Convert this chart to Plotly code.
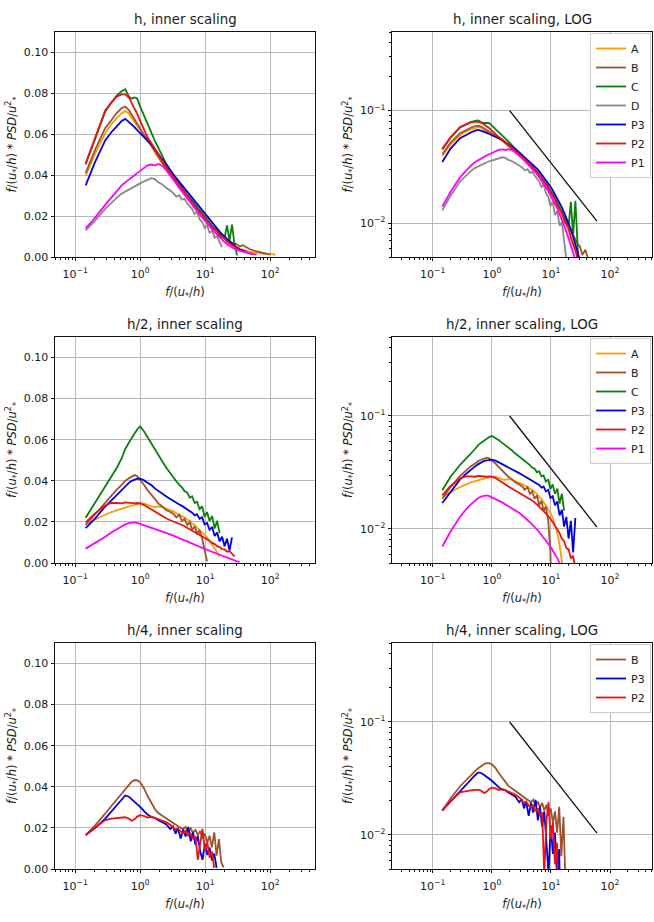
import math
import plotly.graph_objects as go

# ---------------- data ----------------
NAMES = ["A", "B", "C", "D", "P3", "P2", "P1"]

# frequency grid, height h
F_H = [0.145, 0.2, 0.29, 0.36, 0.44, 0.52, 0.59, 0.67, 0.74, 0.82,
       0.9, 1.0, 1.15, 1.3, 1.5, 1.7, 1.9, 2.2, 2.5, 2.9,
       3.3, 3.6, 4.0, 4.4, 4.8, 5.3, 5.8, 6.3, 6.9, 7.5,
       8.2, 9.0, 9.8, 10.7, 11.7, 12.8, 14, 15.3, 16.7, 18.2,
       19.9, 21.7, 23.7, 25.9, 28.3, 31, 34, 38, 43, 48,
       55, 62, 70, 80, 90, 100, 112, 120]

H_A = [0.0395, 0.050, 0.0605, 0.065, 0.068, 0.0703, 0.0714, 0.0702, 0.068, 0.066,
       0.064, 0.062, 0.059, 0.0565, 0.054, 0.051, 0.0485, 0.0455, 0.043, 0.040,
       0.0375, 0.036, 0.034, 0.0325, 0.031, 0.0292, 0.0276, 0.026, 0.0245, 0.023,
       0.0215, 0.020, 0.0186, 0.0172, 0.0158, 0.0145, 0.0132, 0.012, 0.0108, 0.0097,
       0.0087, 0.0077, 0.0068, 0.006, 0.0052, 0.0046, 0.004, 0.0035, 0.003, 0.0026,
       0.0023, 0.002, 0.0018, 0.0016, 0.0015, 0.0016, 0.0013, 0.0011]
H_B = [0.041, 0.052, 0.063, 0.067, 0.0705, 0.0728, 0.0735, 0.0718, 0.0695, 0.067,
       0.0648, 0.0625, 0.0595, 0.057, 0.0545, 0.0515, 0.049, 0.046, 0.0435, 0.0405,
       0.038, 0.0365, 0.0345, 0.033, 0.0315, 0.0298, 0.0282, 0.0268, 0.0252, 0.0238,
       0.0222, 0.0208, 0.0194, 0.018, 0.0166, 0.0152, 0.014, 0.0128, 0.0116, 0.0105,
       0.0095, 0.0086, 0.0078, 0.0071, 0.0065, 0.0062, 0.0052, 0.0058, 0.0046, 0.0039,
       0.0032, 0.0027, 0.0022, 0.0018, 0.0015, 0.0013, None, None]
H_C = [0.0452, 0.0575, 0.071, 0.0755, 0.079, 0.081, 0.082, 0.0785, 0.0774, 0.078,
       0.0775, 0.0735, 0.069, 0.0645, 0.060, 0.0565, 0.0535, 0.049, 0.0458, 0.0425,
       0.0398, 0.0375, 0.0358, 0.0338, 0.0322, 0.0305, 0.0288, 0.027, 0.0255, 0.024,
       0.0225, 0.021, 0.0196, 0.018, 0.0165, 0.0152, 0.0138, 0.0125, 0.0112, 0.0102,
       0.0094, 0.0155, 0.0078, 0.0158, 0.0062, 0.0008, None, None, None, None,
       None, None, None, None, None, None, None, None]
H_D = [0.013, 0.0175, 0.0235, 0.0265, 0.029, 0.031, 0.032, 0.033, 0.034, 0.0348,
       0.0355, 0.036, 0.037, 0.0378, 0.0385, 0.038, 0.0365, 0.0355, 0.0338, 0.0325,
       0.031, 0.0295, 0.0302, 0.028, 0.0285, 0.0262, 0.0248, 0.0235, 0.021, 0.0222,
       0.0185, 0.0172, 0.0142, 0.0155, 0.0118, 0.0128, 0.0095, 0.0102, 0.0072, 0.0048,
       None, None, None, None, None, None, None, None, None, None,
       None, None, None, None, None, None, None, None]
H_P3 = [0.035, 0.046, 0.057, 0.061, 0.064, 0.0665, 0.0675, 0.066, 0.065, 0.0635,
        0.062, 0.0605, 0.059, 0.057, 0.0548, 0.0525, 0.0505, 0.048, 0.0455, 0.0425,
        0.040, 0.0385, 0.0365, 0.035, 0.0338, 0.032, 0.0305, 0.029, 0.0272, 0.0258,
        0.0242, 0.0228, 0.0212, 0.0196, 0.018, 0.0168, 0.0152, 0.0138, 0.0124, 0.0112,
        0.0098, 0.0088, 0.0076, 0.0066, 0.0055, 0.0046, 0.0038, 0.0031, 0.0025, None,
        None, None, None, None, None, None, None, None]
H_P2 = [0.0457, 0.058, 0.0717, 0.0755, 0.0785, 0.0795, 0.0795, 0.078, 0.0755, 0.0725,
        0.070, 0.0665, 0.062, 0.0585, 0.0555, 0.0525, 0.050, 0.047, 0.044, 0.041,
        0.0385, 0.037, 0.035, 0.0335, 0.032, 0.0298, 0.0285, 0.0265, 0.025, 0.0235,
        0.022, 0.0212, 0.0186, 0.0175, 0.0165, 0.0142, 0.0135, 0.0126, 0.0105, 0.0098,
        0.0091, 0.0074, 0.0066, 0.0057, 0.0048, 0.004, 0.0033, 0.0027, 0.0021, 0.0017,
        0.0013, None, None, None, None, None, None, None]
H_P1 = [0.014, 0.019, 0.0255, 0.029, 0.0325, 0.035, 0.0365, 0.038, 0.039, 0.040,
        0.041, 0.042, 0.0435, 0.0448, 0.0452, 0.0447, 0.0455, 0.0445, 0.0425, 0.040,
        0.0375, 0.0358, 0.0338, 0.032, 0.0305, 0.0288, 0.0272, 0.0256, 0.024, 0.0225,
        0.0208, 0.0193, 0.0178, 0.0163, 0.0149, 0.0135, 0.0121, 0.0108, 0.0095, 0.0084,
        0.0073, 0.0062, 0.0053, 0.0045, 0.0039, 0.0034, 0.003, 0.0026, 0.0022, 0.0019,
        0.0015, 0.0012, None, None, None, None, None, None]

# frequency grid, height h/2
F_H2 = [0.145, 0.2, 0.29, 0.36, 0.44, 0.52, 0.59, 0.67, 0.74, 0.82,
        0.9, 1.0, 1.15, 1.3, 1.5, 1.7, 1.9, 2.2, 2.5, 2.9,
        3.3, 3.6, 4.0, 4.4, 4.8, 5.3, 5.8, 6.3, 6.9, 7.5,
        8.2, 9.0, 9.8, 10.7, 11.7, 12.8, 14, 15.3, 16.7, 18.2,
        19.9, 21.7, 23.7, 25.9, 28.3, 31, 34]

H2_A = [0.019, 0.0212, 0.0235, 0.0248, 0.0258, 0.0265, 0.027, 0.0275, 0.0278, 0.0282,
        0.0285, 0.029, 0.029, 0.0282, 0.0275, 0.0272, 0.0276, 0.0272, 0.0265, 0.0258,
        0.025, 0.0242, 0.0236, 0.0228, 0.0222, 0.0212, 0.0205, 0.0192, 0.0185, 0.0172,
        0.0162, 0.015, 0.0138, 0.0125, 0.0108, 0.0092, 0.0072, 0.0052, 0.003, None,
        None, None, None, None, None, None, None]
H2_B = [0.0185, 0.0235, 0.0295, 0.0328, 0.0358, 0.038, 0.040, 0.0412, 0.042, 0.0428,
        0.0422, 0.0405, 0.038, 0.0355, 0.033, 0.0308, 0.029, 0.0275, 0.0258, 0.0248,
        0.0238, 0.0222, 0.0235, 0.0205, 0.0215, 0.0185, 0.0198, 0.0162, 0.0178, 0.0145,
        0.0158, 0.0118, 0.0062, 0.0008, None, None, None, None, None, None,
        None, None, None, None, None, None, None]
H2_C = [0.022, 0.029, 0.037, 0.0415, 0.0465, 0.051, 0.0555, 0.0585, 0.061, 0.063,
        0.065, 0.0665, 0.064, 0.0612, 0.0578, 0.0552, 0.053, 0.0495, 0.0465, 0.0438,
        0.0412, 0.0398, 0.038, 0.0368, 0.035, 0.0342, 0.0318, 0.0325, 0.0292, 0.0298,
        0.0262, 0.0275, 0.0225, 0.0248, 0.0205, 0.0228, 0.0168, 0.0205, 0.0145, None,
        None, None, None, None, None, None, None]
H2_P3 = [0.017, 0.0215, 0.0275, 0.0305, 0.0335, 0.0358, 0.0375, 0.039, 0.040, 0.0405,
         0.041, 0.041, 0.0402, 0.039, 0.0378, 0.0362, 0.035, 0.0338, 0.0325, 0.0312,
         0.030, 0.0292, 0.0285, 0.0278, 0.027, 0.0262, 0.0252, 0.0245, 0.0232, 0.0238,
         0.0215, 0.0222, 0.0188, 0.0195, 0.0162, 0.0175, 0.0132, 0.0148, 0.0105, 0.0128,
         0.0082, 0.0118, 0.0062, 0.0125, None, None, None]
H2_P2 = [0.0198, 0.024, 0.028, 0.0292, 0.0292, 0.029, 0.0295, 0.0293, 0.029, 0.029,
         0.0292, 0.029, 0.0282, 0.0272, 0.026, 0.0248, 0.0238, 0.0228, 0.0218, 0.0208,
         0.0202, 0.0196, 0.019, 0.0185, 0.0179, 0.0172, 0.0165, 0.0158, 0.015, 0.0144,
         0.0137, 0.013, 0.0123, 0.0115, 0.0107, 0.0098, 0.0092, 0.0082, 0.0078, 0.0068,
         0.0066, 0.0055, 0.0058, 0.0045, 0.0032, None, None]
H2_P1 = [0.007, 0.0095, 0.0128, 0.0148, 0.0165, 0.0178, 0.0188, 0.0194, 0.0197, 0.0198,
         0.0195, 0.019, 0.0185, 0.018, 0.0172, 0.0165, 0.016, 0.0152, 0.0146, 0.0139,
         0.0132, 0.0126, 0.012, 0.0115, 0.011, 0.0105, 0.0099, 0.0094, 0.0088, 0.0084,
         0.0079, 0.0074, 0.007, 0.0065, 0.006, 0.0055, 0.005, 0.0045, 0.004, 0.0035,
         0.003, 0.0025, 0.002, 0.0016, 0.0012, 0.0008, 0.0005]

# frequency grid, height h/4
F_H4 = [0.145, 0.2, 0.29, 0.36, 0.44, 0.52, 0.59, 0.67, 0.74, 0.82,
        0.9, 1.0, 1.15, 1.3, 1.5, 1.7, 1.9, 2.2, 2.5, 2.9,
        3.2, 3.5, 3.8, 4.2, 4.6, 5.0, 5.5, 6.0, 6.5, 7.1,
        7.7, 8.4, 9.1, 9.9, 10.8, 11.7, 12.7, 13.8, 15.0, 16.3,
        17.7, 19.2]

H4_B = [0.0165, 0.021, 0.027, 0.0305, 0.034, 0.0368, 0.039, 0.041, 0.0425, 0.0432,
        0.0432, 0.0422, 0.0392, 0.0355, 0.0318, 0.029, 0.0272, 0.0258, 0.0245, 0.0232,
        0.0222, 0.0215, 0.0208, 0.020, 0.0195, 0.0205, 0.0182, 0.0198, 0.0175, 0.0192,
        0.0165, 0.0185, 0.0148, 0.0172, 0.0128, 0.0162, 0.0105, 0.0178, 0.0065, 0.0145,
        0.0032, 0.0008]
H4_P3 = [0.0165, 0.0198, 0.0245, 0.0278, 0.031, 0.0338, 0.0358, 0.0352, 0.034, 0.0328,
         0.0318, 0.0302, 0.0282, 0.0265, 0.0252, 0.0248, 0.0238, 0.0228, 0.0218, 0.0195,
         0.0208, 0.0172, 0.0198, 0.0148, 0.0192, 0.0158, 0.0205, 0.0135, 0.0178, 0.0118,
         0.0162, 0.0085, 0.0045, 0.0122, 0.0068, 0.0105, 0.0042, 0.0075, 0.0005, None,
         None, None]
H4_P2 = [0.0165, 0.0198, 0.0238, 0.0245, 0.0248, 0.025, 0.0252, 0.0245, 0.0235, 0.0242,
         0.0255, 0.0262, 0.0258, 0.025, 0.0255, 0.0248, 0.0242, 0.0238, 0.0228, 0.0215,
         0.0205, 0.0192, 0.0198, 0.0182, 0.0175, 0.0185, 0.0162, 0.0172, 0.0148, 0.0158,
         0.0045, 0.0135, 0.0195, 0.0092, 0.0128, 0.0055, 0.0085, 0.0005, None, None,
         None, None]

# -2/3 reference slope line
REF_F = [2, 60]
REF_Y = [0.1, 0.0104]

TITLES = ["h, inner scaling", "h, inner scaling, LOG",
          "h/2, inner scaling", "h/2, inner scaling, LOG",
          "h/4, inner scaling", "h/4, inner scaling, LOG"]

X_TICKVALS = [0.1, 1, 10, 100]
X_TICKTEXT = ["10<sup>\u22121</sup>", "10<sup>0</sup>", "10<sup>1</sup>", "10<sup>2</sup>"]
Y_LIN_TICKVALS = [0.0, 0.02, 0.04, 0.06, 0.08, 0.10]
Y_LIN_TICKTEXT = ["0.00", "0.02", "0.04", "0.06", "0.08", "0.10"]
Y_LOG_TICKVALS = [0.01, 0.1]
Y_LOG_TICKTEXT = ["10<sup>\u22122</sup>", "10<sup>\u22121</sup>"]

ROWS = [
    (F_H, [("A", H_A), ("B", H_B), ("C", H_C), ("D", H_D),
           ("P3", H_P3), ("P2", H_P2), ("P1", H_P1)]),
    (F_H2, [("A", H2_A), ("B", H2_B), ("C", H2_C),
            ("P3", H2_P3), ("P2", H2_P2), ("P1", H2_P1)]),
    (F_H4, [("B", H4_B), ("P3", H4_P3), ("P2", H4_P2)]),
]

# ---------------- style ----------------
COLORS = {"A": "#ff9a0a", "B": "#a0522d", "C": "#0a800a", "D": "#8a8a8a",
          "P3": "#0000e0", "P2": "#ee1111", "P1": "#ff00ff"}
W, H = 654, 922
FONT = "DejaVu Sans"
TXT = "#1a1a1a"

LEFT_X = [55 / W, 315 / W]
RIGHT_X = [392 / W, 652 / W]
ROW_Y = [(32, 257), (337, 563), (643, 869)]

fig = go.Figure()

x_minor = [k * 10 ** d for d in range(-2, 3) for k in range(2, 10)]
y_minor = [k * 10 ** d for d in range(-3, 0) for k in range(2, 10)]

XT = "<i>f</i>/(<i>u</i><sub>*</sub>/<i>h</i>)"
YT = "<i>f</i>/(<i>u</i><sub>*</sub>/<i>h</i>) * <i>PSD</i>/<i>u</i><sup>2</sup><sub>*</sub>"

common_axis = dict(showline=True, mirror=True, linecolor="#111", linewidth=0.9,
                   ticks="outside", ticklen=3.5, tickwidth=0.9, tickcolor="#111",
                   showgrid=True, gridcolor="#b8b8b8", gridwidth=0.9, zeroline=False,
                   tickfont=dict(family=FONT, size=11, color=TXT), automargin=False)

layout = dict(width=W, height=H, margin=dict(l=0, r=0, t=0, b=0),
              paper_bgcolor="white", plot_bgcolor="white",
              font=dict(family=FONT, color=TXT))
annotations = []

legend_keys = ["legend", "legend2", "legend3"]
for r, (freqs, series) in enumerate(ROWS):
    top, bot = ROW_Y[r]
    ydom = [1 - bot / H, 1 - top / H]
    for c in range(2):
        idx = 2 * r + c + 1
        xa = "x" if idx == 1 else f"x{idx}"
        ya = "y" if idx == 1 else f"y{idx}"
        for name, vals in series:
            fig.add_trace(go.Scatter(
                x=freqs, y=vals, mode="lines", name=name,
                line=dict(color=COLORS[name], width=1.8),
                xaxis=xa, yaxis=ya, showlegend=(c == 1),
                legend=legend_keys[r], connectgaps=False))
        if c == 1:
            fig.add_trace(go.Scatter(x=REF_F, y=REF_Y, mode="lines",
                                     line=dict(color="#111", width=1.3),
                                     xaxis=xa, yaxis=ya, showlegend=False))
        xkey = "xaxis" if idx == 1 else f"xaxis{idx}"
        ykey = "yaxis" if idx == 1 else f"yaxis{idx}"
        xr = [-1.31, 2.69] if c == 0 else [-1.69, 2.71]
        layout[xkey] = dict(common_axis, type="log", range=xr,
                            domain=LEFT_X if c == 0 else RIGHT_X,
                            anchor=ya, tickmode="array",
                            tickvals=X_TICKVALS, ticktext=X_TICKTEXT,
                            ticklabelstandoff=3,
                            minor=dict(tickmode="array", tickvals=x_minor,
                                       ticks="outside", ticklen=2,
                                       tickwidth=0.7, tickcolor="#111",
                                       showgrid=False),
                            title=dict(text=XT, standoff=8,
                                       font=dict(family=FONT, size=11.5, color=TXT)))
        if c == 0:
            layout[ykey] = dict(common_axis, type="linear", range=[0, 0.11],
                                domain=ydom, anchor=xa, tickmode="array",
                                tickvals=Y_LIN_TICKVALS, ticktext=Y_LIN_TICKTEXT,
                                title=dict(text=YT, standoff=4,
                                           font=dict(family=FONT, size=11.5, color=TXT)))
        else:
            layout[ykey] = dict(common_axis, type="log",
                                range=[math.log10(0.005), math.log10(0.5)],
                                domain=ydom, anchor=xa, tickmode="array",
                                tickvals=Y_LOG_TICKVALS, ticktext=Y_LOG_TICKTEXT,
                                minor=dict(tickmode="array", tickvals=y_minor,
                                           ticks="outside", ticklen=2,
                                           tickwidth=0.7, tickcolor="#111",
                                           showgrid=False),
                                title=dict(text=YT, standoff=4,
                                           font=dict(family=FONT, size=11.5, color=TXT)))
        dom = LEFT_X if c == 0 else RIGHT_X
        annotations.append(dict(text=TITLES[idx - 1], xref="paper", yref="paper",
                                x=(dom[0] + dom[1]) / 2, y=1 - (top - 3) / H,
                                xanchor="center", yanchor="bottom", showarrow=False,
                                font=dict(family=FONT, size=13.4, color=TXT)))
    layout[legend_keys[r]] = dict(x=590 / W, xanchor="left",
                                  y=1 - (top + 1) / H, yanchor="top",
                                  bgcolor="white", bordercolor="#cccccc", borderwidth=1,
                                  font=dict(family=FONT, size=11, color=TXT),
                                  itemwidth=30, tracegroupgap=0)

layout["annotations"] = annotations
fig.update_layout(**layout)
fig.write_html("out.html", config={"displayModeBar": False},
               post_script="document.body.style.margin='0px';document.body.style.padding='0px';")
